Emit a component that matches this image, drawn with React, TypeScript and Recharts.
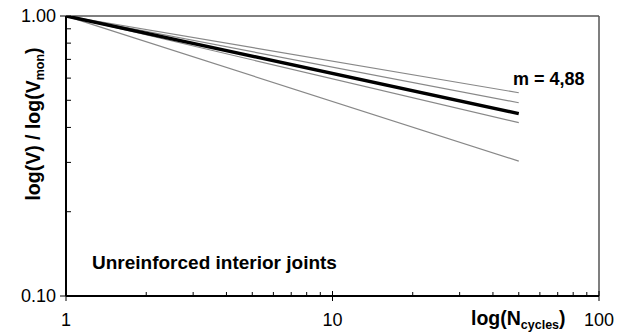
import { LineChart, Line, XAxis, YAxis, ReferenceLine, Label } from 'recharts';

const cycles = [1, 50];
const bandTop = [1, 0.532];
const bandUpper = [1, 0.49];
const meanFit = [1, 0.448];
const bandLower = [1, 0.416];
const bandBottom = [1, 0.303];

const xTicks = [1, 2, 3, 4, 5, 6, 7, 8, 9, 10, 20, 30, 40, 50, 60, 70, 80, 90, 100];
const xMajor = [1, 10, 100];
const yTicks = [0.1, 0.2, 0.3, 0.4, 0.5, 0.6, 0.7, 0.8, 0.9, 1];
const yMajor = [0.1, 1];

const data = cycles.map((n, i) => ({
  n,
  top: bandTop[i],
  upper: bandUpper[i],
  mean: meanFit[i],
  lower: bandLower[i],
  bottom: bandBottom[i],
}));

const FONT = '"Liberation Sans", Arial, sans-serif';

function XTick({ x, y, payload }: any) {
  const major = xMajor.includes(payload.value);
  return (
    <g>
      <line x1={x} x2={x} y1={major ? y - 5 : y - 4} y2={major ? y + 5 : y} stroke="#000" strokeWidth={1} />
      {major && (
        <text x={x} y={y + 30} textAnchor="middle" fontSize={18} fontFamily={FONT} fill="#000">
          {payload.value}
        </text>
      )}
    </g>
  );
}

function YTick({ x, y, payload }: any) {
  const major = yMajor.includes(payload.value);
  return (
    <g>
      <line x1={major ? x - 6 : x} x2={x + 5} y1={y} y2={y} stroke="#000" strokeWidth={1} />
      {major && (
        <text x={x - 10} y={y + 6} textAnchor="end" fontSize={18} fontFamily={FONT} fill="#000">
          {payload.value.toFixed(2)}
        </text>
      )}
    </g>
  );
}

export default function App() {
  return (
    <div style={{ position: 'absolute', left: 0, top: 0, background: '#fff' }}>
      <LineChart width={623} height={334} data={data} margin={{ top: 16, right: 24, left: 0, bottom: 0 }}>
        <XAxis
          dataKey="n"
          type="number"
          scale="log"
          domain={[1, 100]}
          ticks={xTicks}
          interval={0}
          allowDataOverflow
          height={38}
          tickSize={0}
          tickMargin={0}
          tickLine={false}
          tick={<XTick />}
          axisLine={{ stroke: '#000', strokeWidth: 2 }}
        >
          <Label
            content={() => (
              <text x={471} y={325} fontSize={19.5} fontWeight="bold" fontFamily={FONT} fill="#000">
                log(N
                <tspan fontSize={12.5} dy={4}>cycles</tspan>
                <tspan dy={-4}>)</tspan>
              </text>
            )}
          />
        </XAxis>
        <YAxis
          type="number"
          scale="log"
          domain={[0.1, 1]}
          ticks={yTicks}
          interval={0}
          allowDataOverflow
          width={66}
          tickSize={0}
          tickMargin={0}
          tickLine={false}
          tick={<YTick />}
          axisLine={{ stroke: '#000', strokeWidth: 2 }}
        >
          <Label
            content={() => (
              <text
                x={40}
                y={124}
                transform="rotate(-90 40 124)"
                textAnchor="middle"
                fontSize={19.5}
                fontWeight="bold"
                fontFamily={FONT}
                fill="#000"
              >
                log(V) / log(V
                <tspan fontSize={12.5} dy={4}>mon</tspan>
                <tspan dy={-4}>)</tspan>
              </text>
            )}
          />
        </YAxis>
        <ReferenceLine y={1} stroke="#000" strokeWidth={1} ifOverflow="visible" />
        <ReferenceLine x={100} stroke="#555" strokeWidth={1.5} ifOverflow="visible" />
        <Line dataKey="top" stroke="#888" strokeWidth={1.2} dot={false} isAnimationActive={false} />
        <Line dataKey="upper" stroke="#888" strokeWidth={1.2} dot={false} isAnimationActive={false} />
        <Line dataKey="lower" stroke="#888" strokeWidth={1.2} dot={false} isAnimationActive={false} />
        <Line dataKey="bottom" stroke="#888" strokeWidth={1.2} dot={false} isAnimationActive={false} />
        <Line dataKey="mean" stroke="#000" strokeWidth={3.5} dot={false} isAnimationActive={false} />
      </LineChart>
      <div style={{ position: 'absolute', left: 513, top: 68, fontFamily: FONT, fontWeight: 'bold', fontSize: 18, lineHeight: '22px', whiteSpace: 'nowrap' }}>
        m = 4,88
      </div>
      <div style={{ position: 'absolute', left: 92, top: 251, fontFamily: FONT, fontWeight: 'bold', fontSize: 19, lineHeight: '23px', whiteSpace: 'nowrap' }}>
        Unreinforced interior joints
      </div>
    </div>
  );
}
